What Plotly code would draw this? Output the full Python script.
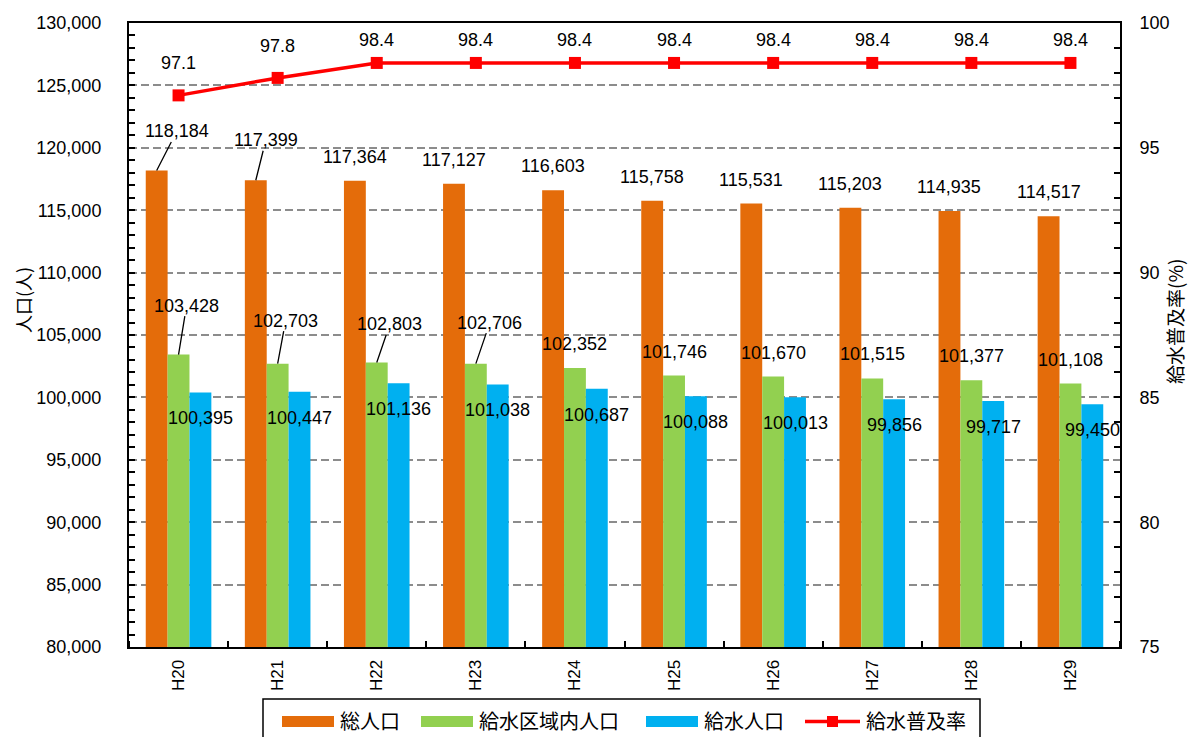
import plotly.graph_objects as go

# ---- data ----
years = ["H20", "H21", "H22", "H23", "H24", "H25", "H26", "H27", "H28", "H29"]
total_pop = [118184, 117399, 117364, 117127, 116603, 115758, 115531, 115203, 114935, 114517]
area_pop = [103428, 102703, 102803, 102706, 102352, 101746, 101670, 101515, 101377, 101108]
served_pop = [100395, 100447, 101136, 101038, 100687, 100088, 100013, 99856, 99717, 99450]
coverage_rate = [97.1, 97.8, 98.4, 98.4, 98.4, 98.4, 98.4, 98.4, 98.4, 98.4]

# ---- styling ----
C_ORANGE = "#E46C0A"
C_GREEN = "#92D050"
C_BLUE = "#00B0F0"
C_RED = "#FF0000"
NUM_FONT = "Liberation Sans, Arial, Noto Sans CJK JP"
JP_FONT = "Noto Sans CJK JP, Liberation Sans"

W, H = 1189, 737
L, R, T, B = 129, 69, 23, 90
PW, PH = W - L - R, H - T - B
BARGAP = 0.338
BW = (1 - BARGAP) / 3  # width of one bar in category units

Y_RANGE = [80000, 130000]
Y2_RANGE = [75, 100]


def xp(px):
    return (px - L) / PW


def yp(py):
    return (H - B - py) / PH


xs = list(range(len(years)))

fig = go.Figure()
fig.add_trace(go.Bar(x=xs, y=total_pop, name="総人口", marker_color=C_ORANGE,
                     marker_line_width=0, showlegend=False))
fig.add_trace(go.Bar(x=xs, y=area_pop, name="給水区域内人口", marker_color=C_GREEN,
                     marker_line_width=0, showlegend=False))
fig.add_trace(go.Bar(x=xs, y=served_pop, name="給水人口", marker_color=C_BLUE,
                     marker_line_width=0, showlegend=False))
fig.add_trace(go.Scatter(x=xs, y=coverage_rate, name="給水普及率", yaxis="y2",
                         mode="lines+markers",
                         line=dict(color=C_RED, width=3.5),
                         marker=dict(symbol="square", size=12, color=C_RED),
                         showlegend=False))

ann = []
lbl_font = dict(family=NUM_FONT, size=18, color="black")

# leader-line offsets (pixels) for labels lifted away from their bars
orange_leader = {0: (20, -39), 1: (10, -40)}
green_leader = {0: (8, -49), 1: (8, -43), 2: (13, -38), 3: (14, -41)}


def bar_label(x, y, text, leader, yshift):
    if leader is not None:
        ax, ay = leader
        return dict(x=x, y=y, xref="x", yref="y", text=text, showarrow=True,
                    arrowhead=0, arrowwidth=1.3, arrowcolor="black",
                    ax=ax, ay=ay, standoff=0, borderpad=0, font=lbl_font)
    return dict(x=x, y=y, xref="x", yref="y", text=text, showarrow=False,
                yshift=yshift, xanchor="center", yanchor="middle", font=lbl_font)


for i in xs:
    ann.append(bar_label(i - BW, total_pop[i], f"{total_pop[i]:,}",
                         orange_leader.get(i), 24))
    ann.append(bar_label(i, area_pop[i], f"{area_pop[i]:,}",
                         green_leader.get(i), 24))
    ann.append(bar_label(i + BW, served_pop[i], f"{served_pop[i]:,}", None, -26))
    # rate labels kept inside the plot area near the top edge
    py = T + (Y2_RANGE[1] - coverage_rate[i]) / (Y2_RANGE[1] - Y2_RANGE[0]) * PH
    shift = min(32, py - T - 17)
    ann.append(dict(x=i, y=coverage_rate[i], xref="x", yref="y2",
                    text=f"{coverage_rate[i]:.1f}", showarrow=False,
                    yshift=shift, xanchor="center", yanchor="middle", font=lbl_font))

# axis titles
ann.append(dict(x=xp(23), y=yp(300), xref="paper", yref="paper", text="人口(人)",
                textangle=-90, showarrow=False, xanchor="center", yanchor="middle",
                font=dict(family=JP_FONT, size=18, color="black")))
ann.append(dict(x=xp(1174), y=yp(322), xref="paper", yref="paper", text="給水普及率(%)",
                textangle=-90, showarrow=False, xanchor="center", yanchor="middle",
                borderpad=0, font=dict(family=JP_FONT, size=19, color="black")))

# legend box
shapes = []
shapes.append(dict(type="rect", xref="paper", yref="paper",
                   x0=xp(263), x1=xp(980), y0=yp(699), y1=yp(760),
                   line=dict(color="black", width=1.5), fillcolor="white", layer="above"))
leg_y = 721.5
leg_items = [
    ("総人口", C_ORANGE, 282, 338, "bar"),
    ("給水区域内人口", C_GREEN, 421, 477, "bar"),
    ("給水人口", C_BLUE, 646, 702, "bar"),
    ("給水普及率", C_RED, 805, 864, "line"),
]
for text, col, sx, tx, kind in leg_items:
    if kind == "bar":
        shapes.append(dict(type="rect", xref="paper", yref="paper",
                           x0=xp(sx), x1=xp(sx + 52), y0=yp(leg_y + 5.5), y1=yp(leg_y - 5.5),
                           line=dict(width=0), fillcolor=col, layer="above"))
    else:
        shapes.append(dict(type="line", xref="paper", yref="paper",
                           x0=xp(sx), x1=xp(sx + 55), y0=yp(leg_y), y1=yp(leg_y),
                           line=dict(color=col, width=3.5), layer="above"))
        shapes.append(dict(type="rect", xref="paper", yref="paper",
                           x0=xp(sx + 22), x1=xp(sx + 33), y0=yp(leg_y + 5.5), y1=yp(leg_y - 5.5),
                           line=dict(width=0), fillcolor=col, layer="above"))
    ann.append(dict(x=xp(tx), y=yp(leg_y - 1), xref="paper", yref="paper", text=text,
                    showarrow=False, xanchor="left", yanchor="middle",
                    font=dict(family=JP_FONT, size=20, color="black")))

fig.update_layout(
    width=W, height=H, autosize=False,
    margin=dict(l=L, r=R, t=T, b=B, pad=0),
    paper_bgcolor="white", plot_bgcolor="white",
    barmode="group", bargap=BARGAP, bargroupgap=0,
    showlegend=False,
    font=dict(family=NUM_FONT, size=18, color="black"),
    xaxis=dict(
        range=[-0.5, len(years) - 0.5], tickmode="array", tickvals=xs, ticktext=years,
        tickangle=-90, ticks="", showgrid=False, zeroline=False,
        showline=True, linecolor="black", linewidth=2, mirror=True,
        tickfont=dict(family=NUM_FONT, size=17), ticklabelstandoff=4,
        minor=dict(tick0=0.5, dtick=1, ticks="inside", ticklen=6, tickcolor="black",
                   tickwidth=1.5, showgrid=False),
    ),
    yaxis=dict(
        range=Y_RANGE, dtick=5000, tickformat=",d", ticks="inside", ticklen=6,
        tickcolor="black", tickwidth=1.5,
        showgrid=True, gridcolor="#8c8c8c", gridwidth=1.5, griddash="8px,4px",
        zeroline=False, showline=True, linecolor="black", linewidth=2,
        tickfont=dict(family=NUM_FONT, size=18), ticklabelstandoff=22,
        minor=dict(dtick=1000, ticks="inside", ticklen=6, tickcolor="black",
                   tickwidth=1.5, showgrid=False),
    ),
    yaxis2=dict(
        range=Y2_RANGE, dtick=5, overlaying="y", side="right", ticks="inside",
        ticklen=6, tickcolor="black", tickwidth=1.5, showgrid=False, zeroline=False,
        showline=True, linecolor="black", linewidth=2,
        tickfont=dict(family=NUM_FONT, size=18), ticklabelstandoff=14,
        minor=dict(dtick=1, ticks="inside", ticklen=6, tickcolor="black",
                   tickwidth=1.5, showgrid=False),
    ),
    annotations=ann,
    shapes=shapes,
)

fig.write_html("out.html")
